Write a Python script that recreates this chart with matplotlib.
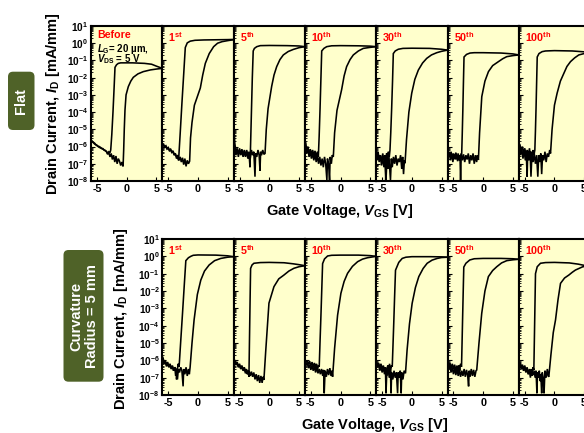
import numpy as np
import matplotlib
matplotlib.use('Agg')
import matplotlib.pyplot as plt
from matplotlib.patches import FancyBboxPatch
from matplotlib.transforms import IdentityTransform
from matplotlib.ticker import LogLocator, NullFormatter

plt.rcParams['font.family'] = ['Liberation Sans', 'DejaVu Sans']
plt.rcParams['font.weight'] = 'bold'
plt.rcParams['mathtext.fontset'] = 'custom'
plt.rcParams['mathtext.rm'] = 'Liberation Sans:bold'
plt.rcParams['mathtext.bf'] = 'Liberation Sans:bold'
plt.rcParams['mathtext.it'] = 'Liberation Sans:italic:bold'
plt.rcParams['mathtext.sf'] = 'Liberation Sans:bold'

# ---------------- data: (V_GS [V], log10 I_D [mA/mm]) ----------------
# ---- Flat row ----
FLAT_BEFORE_FWD = [(-6.0,-5.62),(-5.8,-5.72),(-5.6,-5.78),(-5.4,-5.85),(-5.2,-5.9),(-5.0,-5.95),(-4.8,-6.0),(-4.6,-6.05),(-4.4,-6.08),(-4.2,-6.12),(-4.0,-6.15),(-3.8,-6.2),(-3.6,-6.22),(-3.4,-6.3),(-3.2,-6.45),(-3.0,-6.35),(-2.8,-6.6),(-2.6,-6.4),(-2.4,-6.75),(-2.2,-6.5),(-2.0,-6.9),(-1.8,-6.55),(-1.6,-7.0),(-1.4,-6.7),(-1.2,-6.85),(-1.0,-7.1),(-0.8,-6.9),(-0.6,-7.15),(-0.5,-6.2),(-0.4,-5.0),(-0.28,-3.88),(-0.1,-3.0),(0.28,-2.52),(0.7,-2.2),(1.12,-1.98),(1.9,-1.78),(2.8,-1.65),(4.0,-1.55),(5.0,-1.5),(6.0,-1.46)]
FLAT_BEFORE_REV = [(6.0,-1.46),(5.0,-1.33),(4.2,-1.22),(3.0,-1.17),(1.0,-1.14),(-1.0,-1.14),(-1.4,-1.17),(-1.7,-1.25),(-1.96,-1.4),(-2.1,-2.5),(-2.3,-4.0),(-2.5,-5.3),(-2.68,-6.2),(-2.8,-6.35),(-3.0,-6.3),(-3.2,-6.4),(-3.4,-6.28),(-3.6,-6.25),(-3.8,-6.2),(-4.0,-6.12),(-4.2,-6.1),(-4.4,-6.05),(-4.6,-6.0),(-4.8,-5.98),(-5.0,-5.92),(-5.2,-5.88),(-5.4,-5.8),(-5.6,-5.75),(-5.8,-5.7),(-6.0,-5.6)]

FLAT_1_FWD = [(-6.0,-5.9),(-5.8,-5.95),(-5.6,-6.05),(-5.4,-6.0),(-5.2,-6.15),(-5.0,-6.1),(-4.8,-6.25),(-4.6,-6.2),(-4.4,-6.35),(-4.2,-6.3),(-4.0,-6.5),(-3.8,-6.45),(-3.6,-6.6),(-3.4,-6.5),(-3.2,-6.8),(-3.0,-6.6),(-2.8,-6.9),(-2.6,-6.65),(-2.4,-7.05),(-2.2,-6.7),(-2.0,-7.15),(-1.8,-6.8),(-1.6,-7.0),(-1.4,-6.85),(-1.25,-5.5),(-1.0,-4.6),(-0.6,-3.6),(0.0,-3.0),(0.4,-2.6),(0.8,-1.85),(1.24,-1.17),(1.9,-0.6),(2.64,-0.2),(3.3,0.0),(4.05,0.09),(5.0,0.15),(5.73,0.19),(6.0,0.2)]
FLAT_1_REV = [(6.0,0.22),(5.0,0.21),(3.0,0.2),(1.0,0.19),(-0.5,0.17),(-1.3,0.12),(-1.8,0.02),(-2.13,-0.25),(-2.4,-1.8),(-2.7,-3.5),(-3.0,-5.3),(-3.26,-6.8),(-3.4,-6.55),(-3.6,-6.7),(-3.8,-6.4),(-4.0,-6.45),(-4.2,-6.25),(-4.4,-6.3),(-4.6,-6.15),(-4.8,-6.2),(-5.0,-6.05),(-5.2,-6.1),(-5.4,-5.95),(-5.6,-6.0),(-5.8,-5.85),(-6.0,-5.85)]

FLAT_5_FWD = [(-6.0,-5.1),(-5.9,-6.0),(-5.8,-6.2),(-5.6,-6.5),(-5.4,-6.1),(-5.2,-6.6),(-5.0,-6.2),(-4.8,-6.45),(-4.6,-6.15),(-4.4,-6.55),(-4.2,-6.25),(-4.0,-6.6),(-3.8,-6.2),(-3.6,-6.5),(-3.4,-6.3),(-3.2,-6.7),(-3.0,-6.2),(-2.8,-6.5),(-2.6,-6.3),(-2.4,-7.75),(-2.3,-6.4),(-2.1,-6.6),(-1.9,-6.2),(-1.7,-6.5),(-1.56,-7.4),(-1.45,-6.3),(-1.3,-6.5),(-1.1,-6.2),(-0.9,-6.45),(-0.71,-6.4),(-0.5,-5.0),(-0.2,-3.8),(0.41,-2.5),(0.8,-1.85),(1.25,-1.36),(1.8,-0.95),(2.37,-0.68),(3.2,-0.48),(4.05,-0.36),(5.0,-0.26),(6.0,-0.2)]
FLAT_5_REV = [(6.0,-0.2),(5.0,-0.16),(3.0,-0.14),(0.0,-0.13),(-1.5,-0.14),(-2.1,-0.2),(-2.5,-0.3),(-2.7,-0.45),(-2.85,-2.0),(-3.0,-4.0),(-3.15,-6.0),(-3.24,-7.2),(-3.4,-6.4),(-3.6,-6.7),(-3.8,-6.3),(-4.0,-6.55),(-4.2,-6.2),(-4.4,-6.6),(-4.6,-6.25),(-4.8,-6.5),(-5.0,-6.1),(-5.2,-6.45),(-5.4,-6.15),(-5.6,-6.3),(-5.8,-5.8),(-5.9,-5.2),(-6.0,-5.0)]

FLAT_10_FWD = [(-6.0,-5.6),(-5.9,-6.1),(-5.7,-6.4),(-5.5,-6.1),(-5.3,-6.6),(-5.1,-6.3),(-4.9,-6.7),(-4.7,-6.35),(-4.5,-6.8),(-4.3,-6.4),(-4.1,-6.9),(-3.9,-6.5),(-3.7,-7.0),(-3.5,-6.6),(-3.3,-7.1),(-3.1,-6.7),(-2.9,-7.2),(-2.7,-6.6),(-2.5,-7.0),(-2.3,-7.95),(-2.2,-6.7),(-2.0,-7.1),(-1.85,-7.95),(-1.75,-6.6),(-1.55,-7.0),(-1.4,-6.5),(-1.22,-6.6),(-1.0,-5.2),(-0.6,-3.9),(0.18,-2.7),(0.6,-1.9),(1.02,-1.36),(1.6,-0.95),(2.15,-0.68),(3.0,-0.45),(3.83,-0.3),(5.0,-0.24),(6.0,-0.2)]
FLAT_10_REV = [(6.0,-0.2),(5.0,-0.17),(3.0,-0.15),(0.0,-0.14),(-1.5,-0.15),(-2.33,-0.2),(-2.8,-0.3),(-3.17,-0.45),(-3.3,-2.0),(-3.45,-3.8),(-3.6,-5.4),(-3.74,-6.6),(-3.9,-6.3),(-4.1,-6.6),(-4.3,-6.25),(-4.5,-6.5),(-4.7,-6.2),(-4.9,-6.45),(-5.1,-6.15),(-5.3,-6.4),(-5.5,-6.0),(-5.7,-6.2),(-5.85,-5.8),(-6.0,-5.6)]

FLAT_30_FWD = [(-6.0,-6.3),(-5.85,-6.8),(-5.7,-6.4),(-5.5,-6.9),(-5.3,-6.5),(-5.1,-7.1),(-4.9,-6.6),(-4.7,-7.2),(-4.5,-6.7),(-4.35,-7.95),(-4.2,-6.8),(-4.0,-7.3),(-3.85,-6.6),(-3.6,-7.95),(-3.45,-6.7),(-3.3,-7.2),(-3.1,-6.6),(-2.9,-7.0),(-2.7,-6.5),(-2.5,-7.1),(-2.3,-6.7),(-2.1,-6.9),(-1.9,-6.5),(-1.7,-7.3),(-1.55,-6.6),(-1.4,-7.6),(-1.25,-6.8),(-1.15,-6.97),(-0.9,-5.6),(-0.5,-4.0),(-0.02,-2.9),(0.5,-2.1),(1.09,-1.56),(1.8,-1.15),(2.5,-0.88),(3.3,-0.68),(4.19,-0.55),(5.0,-0.47),(6.0,-0.4)]
FLAT_30_REV = [(6.0,-0.4),(5.0,-0.35),(3.0,-0.3),(0.0,-0.29),(-1.5,-0.3),(-2.28,-0.35),(-2.8,-0.45),(-3.12,-0.6),(-3.25,-2.2),(-3.4,-3.8),(-3.55,-5.2),(-3.68,-6.2),(-3.8,-6.6),(-3.95,-6.3),(-4.1,-7.0),(-4.25,-6.4),(-4.4,-7.95),(-4.5,-6.5),(-4.7,-6.8),(-4.9,-6.4),(-5.1,-6.9),(-5.3,-6.5),(-5.5,-6.7),(-5.7,-6.3),(-5.85,-6.5),(-6.0,-6.2)]

FLAT_50_FWD = [(-6.0,-6.3),(-5.85,-6.6),(-5.7,-6.35),(-5.5,-6.8),(-5.3,-6.4),(-5.1,-6.9),(-4.9,-6.45),(-4.7,-6.75),(-4.5,-6.4),(-4.3,-6.85),(-4.1,-6.5),(-3.9,-6.7),(-3.7,-6.4),(-3.5,-6.8),(-3.3,-6.45),(-3.1,-6.9),(-2.9,-6.5),(-2.7,-6.75),(-2.5,-6.4),(-2.3,-7.0),(-2.1,-6.5),(-1.9,-6.8),(-1.7,-6.4),(-1.5,-7.0),(-1.3,-6.5),(-1.1,-6.9),(-0.95,-6.5),(-0.8,-6.78),(-0.6,-5.2),(-0.23,-3.1),(0.3,-2.2),(0.89,-1.65),(1.6,-1.3),(2.57,-1.07),(3.3,-0.9),(3.97,-0.78),(5.0,-0.72),(6.0,-0.68)]
FLAT_50_REV = [(6.0,-0.68),(5.0,-0.62),(3.0,-0.57),(0.0,-0.55),(-1.5,-0.55),(-2.21,-0.57),(-2.8,-0.65),(-3.22,-0.8),(-3.32,-2.3),(-3.42,-3.9),(-3.52,-5.3),(-3.61,-6.4),(-3.7,-6.6),(-3.8,-7.95),(-3.9,-6.5),(-4.05,-6.8),(-4.2,-6.4),(-4.4,-6.75),(-4.6,-6.35),(-4.8,-6.7),(-5.0,-6.4),(-5.2,-6.65),(-5.4,-6.3),(-5.6,-6.6),(-5.8,-6.3),(-6.0,-6.2)]

FLAT_100_FWD = [(-6.0,-5.8),(-5.85,-6.1),(-5.7,-6.5),(-5.5,-6.1),(-5.3,-6.7),(-5.1,-6.2),(-4.9,-6.8),(-4.75,-6.3),(-4.6,-7.75),(-4.5,-6.4),(-4.3,-6.8),(-4.1,-6.3),(-3.95,-7.75),(-3.8,-6.5),(-3.6,-6.9),(-3.4,-6.4),(-3.2,-7.0),(-3.0,-6.5),(-2.8,-7.75),(-2.65,-6.5),(-2.5,-6.9),(-2.3,-6.4),(-2.15,-7.6),(-2.0,-6.5),(-1.8,-6.8),(-1.6,-6.3),(-1.4,-6.9),(-1.2,-6.4),(-1.0,-6.6),(-0.8,-6.2),(-0.66,-6.4),(-0.4,-5.0),(0.0,-3.6),(0.45,-2.9),(1.0,-2.2),(1.58,-1.75),(2.1,-1.35),(2.7,-1.07),(3.4,-0.85),(4.1,-0.68),(5.0,-0.6),(6.0,-0.55)]
FLAT_100_REV = [(6.0,-0.56),(5.0,-0.5),(3.0,-0.45),(0.0,-0.43),(-1.5,-0.45),(-2.08,-0.49),(-2.6,-0.6),(-2.9,-0.8),(-3.0,-2.3),(-3.1,-3.8),(-3.2,-5.1),(-3.3,-6.2),(-3.45,-6.5),(-3.6,-6.2),(-3.75,-6.8),(-3.9,-6.3),(-4.05,-6.6),(-4.2,-6.1),(-4.4,-6.5),(-4.6,-6.2),(-4.8,-6.45),(-5.0,-6.1),(-5.2,-6.35),(-5.4,-6.0),(-5.6,-6.25),(-5.8,-5.9),(-6.0,-5.8)]

# ---- Curvature radius = 5 mm row ----
BENT_1_FWD = [(-6.0,-5.75),(-5.85,-6.0),(-5.7,-6.2),(-5.5,-6.1),(-5.3,-6.35),(-5.1,-6.2),(-4.9,-6.4),(-4.7,-6.3),(-4.5,-6.5),(-4.3,-6.35),(-4.1,-6.6),(-3.9,-6.4),(-3.75,-6.9),(-3.6,-6.5),(-3.45,-7.1),(-3.3,-6.5),(-3.1,-6.7),(-2.9,-6.4),(-2.7,-6.6),(-2.5,-7.5),(-2.4,-6.5),(-2.2,-6.8),(-2.0,-6.4),(-1.8,-6.9),(-1.6,-6.5),(-1.45,-6.8),(-1.32,-6.4),(-1.0,-5.0),(-0.65,-3.67),(-0.1,-2.2),(0.48,-1.37),(1.1,-0.85),(1.88,-0.5),(2.8,-0.25),(3.85,-0.12),(5.0,-0.05),(6.0,-0.02)]
BENT_1_REV = [(6.0,-0.02),(5.0,0.03),(3.0,0.07),(0.0,0.08),(-0.8,0.06),(-1.2,0.0),(-1.6,-0.08),(-2.04,-0.25),(-2.3,-1.65),(-2.6,-3.3),(-2.9,-4.9),(-3.17,-6.37),(-3.35,-6.2),(-3.5,-6.7),(-3.6,-7.1),(-3.7,-6.5),(-3.9,-6.4),(-4.1,-6.6),(-4.3,-6.3),(-4.5,-6.45),(-4.7,-6.2),(-4.9,-6.35),(-5.1,-6.1),(-5.3,-6.25),(-5.5,-6.0),(-5.7,-6.1),(-5.85,-5.9),(-6.0,-5.8)]

BENT_5_FWD = [(-6.0,-5.98),(-5.8,-6.15),(-5.6,-6.25),(-5.4,-6.2),(-5.2,-6.4),(-5.0,-6.3),(-4.8,-6.5),(-4.6,-6.4),(-4.4,-6.6),(-4.2,-6.5),(-4.0,-6.75),(-3.8,-6.55),(-3.6,-6.8),(-3.4,-6.6),(-3.2,-6.9),(-3.0,-6.65),(-2.8,-6.95),(-2.6,-6.7),(-2.4,-7.1),(-2.2,-6.8),(-2.0,-7.2),(-1.8,-6.85),(-1.6,-7.3),(-1.4,-6.9),(-1.2,-7.3),(-1.05,-6.95),(-0.9,-7.13),(-0.6,-5.5),(-0.05,-2.7),(0.79,-1.75),(1.6,-1.3),(2.47,-1.08),(3.3,-0.85),(4.15,-0.69),(5.0,-0.6),(6.0,-0.54)]
BENT_5_REV = [(6.0,-0.54),(5.0,-0.48),(4.0,-0.43),(2.5,-0.37),(0.0,-0.35),(-1.5,-0.36),(-2.58,-0.4),(-2.9,-0.5),(-3.14,-0.7),(-3.22,-2.4),(-3.3,-4.2),(-3.37,-5.8),(-3.42,-6.95),(-3.55,-6.6),(-3.7,-6.8),(-3.85,-6.5),(-4.0,-6.65),(-4.2,-6.4),(-4.4,-6.55),(-4.6,-6.3),(-4.8,-6.45),(-5.0,-6.2),(-5.2,-6.35),(-5.4,-6.1),(-5.6,-6.2),(-5.8,-6.0),(-6.0,-5.98)]

BENT_10_FWD = [(-6.0,-5.98),(-5.8,-6.3),(-5.6,-6.15),(-5.4,-6.45),(-5.2,-6.25),(-5.0,-6.55),(-4.8,-6.3),(-4.6,-6.6),(-4.4,-6.35),(-4.2,-6.7),(-4.0,-6.4),(-3.8,-6.75),(-3.6,-6.5),(-3.4,-6.8),(-3.2,-6.5),(-3.0,-6.9),(-2.85,-6.55),(-2.75,-7.9),(-2.6,-6.6),(-2.4,-6.95),(-2.2,-6.5),(-2.0,-6.85),(-1.8,-6.45),(-1.6,-6.9),(-1.45,-6.6),(-1.34,-6.95),(-1.0,-5.3),(-0.5,-3.4),(0.06,-2.13),(0.6,-1.45),(1.18,-0.98),(2.0,-0.58),(2.87,-0.31),(3.7,-0.16),(4.55,-0.08),(6.0,0.0)]
BENT_10_REV = [(6.0,0.0),(5.0,0.04),(3.0,0.07),(0.0,0.07),(-1.5,0.06),(-2.18,0.02),(-2.7,-0.15),(-3.02,-0.42),(-3.15,-1.8),(-3.3,-3.4),(-3.45,-4.9),(-3.59,-6.37),(-3.75,-6.3),(-3.9,-6.6),(-4.05,-6.2),(-4.2,-6.5),(-4.4,-6.15),(-4.6,-6.4),(-4.8,-6.1),(-5.0,-6.35),(-5.2,-6.05),(-5.4,-6.25),(-5.6,-6.0),(-5.8,-6.1),(-6.0,-5.98)]

BENT_30_FWD = [(-6.0,-6.1),(-5.8,-6.4),(-5.6,-6.25),(-5.4,-6.6),(-5.2,-6.35),(-5.0,-6.7),(-4.8,-6.4),(-4.6,-6.8),(-4.4,-6.5),(-4.2,-6.9),(-4.0,-6.5),(-3.8,-7.0),(-3.6,-6.6),(-3.5,-7.9),(-3.4,-6.7),(-3.2,-7.1),(-3.0,-6.6),(-2.8,-7.0),(-2.6,-6.7),(-2.4,-7.9),(-2.3,-6.7),(-2.1,-7.0),(-1.95,-6.6),(-1.8,-7.9),(-1.7,-6.7),(-1.5,-7.1),(-1.3,-6.6),(-1.07,-6.75),(-0.8,-5.4),(-0.4,-3.9),(0.05,-2.71),(0.6,-1.8),(1.17,-1.17),(1.9,-0.7),(2.58,-0.4),(3.4,-0.22),(4.27,-0.12),(5.0,-0.07),(6.0,-0.05)]
BENT_30_REV = [(6.0,-0.05),(5.0,-0.03),(3.0,-0.02),(0.0,-0.02),(-1.0,-0.05),(-1.62,-0.12),(-2.2,-0.35),(-2.75,-0.8),(-2.9,-2.3),(-3.05,-3.9),(-3.18,-5.2),(-3.3,-6.37),(-3.45,-6.3),(-3.6,-6.7),(-3.75,-6.2),(-3.9,-6.6),(-4.05,-6.3),(-4.2,-6.5),(-4.35,-7.9),(-4.45,-6.4),(-4.6,-6.6),(-4.8,-6.3),(-5.0,-6.5),(-5.2,-6.2),(-5.4,-6.4),(-5.6,-6.15),(-5.8,-6.3),(-6.0,-6.1)]

BENT_50_FWD = [(-6.0,-6.2),(-5.8,-6.5),(-5.6,-6.3),(-5.4,-6.7),(-5.2,-6.4),(-5.0,-6.8),(-4.8,-6.45),(-4.6,-6.85),(-4.4,-6.5),(-4.2,-6.9),(-4.0,-6.55),(-3.8,-6.95),(-3.6,-6.6),(-3.4,-6.9),(-3.2,-6.5),(-3.0,-6.95),(-2.8,-6.55),(-2.6,-6.9),(-2.45,-7.5),(-2.35,-6.6),(-2.2,-6.95),(-2.0,-6.5),(-1.8,-6.9),(-1.6,-6.55),(-1.4,-6.95),(-1.2,-6.6),(-1.08,-6.56),(-0.7,-5.0),(-0.24,-3.29),(0.3,-2.0),(0.88,-1.17),(1.6,-0.82),(2.29,-0.6),(3.1,-0.38),(3.97,-0.25),(5.0,-0.2),(6.0,-0.17)]
BENT_50_REV = [(6.0,-0.17),(5.0,-0.14),(3.0,-0.12),(0.0,-0.12),(-1.5,-0.14),(-2.25,-0.21),(-2.9,-0.4),(-3.26,-0.62),(-3.36,-2.1),(-3.46,-3.6),(-3.55,-5.0),(-3.64,-6.37),(-3.8,-6.2),(-3.95,-6.6),(-4.1,-6.3),(-4.25,-6.7),(-4.4,-6.3),(-4.6,-6.6),(-4.8,-6.25),(-5.0,-6.5),(-5.2,-6.2),(-5.4,-6.45),(-5.6,-6.15),(-5.8,-6.35),(-6.0,-6.2)]

BENT_100_FWD = [(-6.0,-6.08),(-5.8,-6.3),(-5.6,-6.5),(-5.4,-6.4),(-5.2,-6.6),(-5.0,-6.45),(-4.8,-6.7),(-4.6,-6.5),(-4.4,-6.8),(-4.2,-6.55),(-4.0,-6.9),(-3.8,-6.6),(-3.6,-6.85),(-3.4,-6.6),(-3.25,-7.0),(-3.1,-6.6),(-2.95,-7.9),(-2.85,-6.7),(-2.7,-7.0),(-2.55,-6.6),(-2.4,-7.2),(-2.3,-6.8),(-2.15,-7.9),(-2.05,-6.7),(-1.9,-7.0),(-1.75,-7.9),(-1.6,-6.6),(-1.4,-7.0),(-1.2,-6.5),(-1.05,-6.9),(-0.95,-6.95),(-0.6,-5.7),(-0.2,-4.4),(0.18,-3.67),(0.6,-2.5),(1.02,-1.56),(1.7,-1.25),(2.42,-1.08),(3.0,-0.92),(3.54,-0.79),(4.77,-0.6),(6.0,-0.56)]
BENT_100_REV = [(6.0,-0.58),(5.0,-0.52),(4.0,-0.45),(2.5,-0.38),(0.0,-0.35),(-1.5,-0.36),(-2.35,-0.4),(-2.9,-0.6),(-3.19,-1.0),(-3.27,-2.6),(-3.35,-4.2),(-3.42,-5.6),(-3.47,-6.56),(-3.6,-6.4),(-3.75,-6.9),(-3.9,-6.5),(-4.05,-7.0),(-4.2,-6.5),(-4.4,-6.8),(-4.6,-6.4),(-4.8,-6.6),(-5.0,-6.3),(-5.2,-6.5),(-5.4,-6.25),(-5.6,-6.4),(-5.8,-6.15),(-6.0,-6.08)]

FLAT_LABELS = [('Before', ''), ('1', 'st'), ('5', 'th'), ('10', 'th'), ('30', 'th'), ('50', 'th'), ('100', 'th')]
BENT_LABELS = [('1', 'st'), ('5', 'th'), ('10', 'th'), ('30', 'th'), ('50', 'th'), ('100', 'th')]
FLAT_CURVES = [(FLAT_BEFORE_FWD, FLAT_BEFORE_REV), (FLAT_1_FWD, FLAT_1_REV), (FLAT_5_FWD, FLAT_5_REV),
               (FLAT_10_FWD, FLAT_10_REV), (FLAT_30_FWD, FLAT_30_REV), (FLAT_50_FWD, FLAT_50_REV),
               (FLAT_100_FWD, FLAT_100_REV)]
BENT_CURVES = [(BENT_1_FWD, BENT_1_REV), (BENT_5_FWD, BENT_5_REV), (BENT_10_FWD, BENT_10_REV),
               (BENT_30_FWD, BENT_30_REV), (BENT_50_FWD, BENT_50_REV), (BENT_100_FWD, BENT_100_REV)]
X_TICKS = [-5, 0, 5]
X_TICK_LABELS = ['-5', '0', '5']
Y_EXPONENTS = [-8, -7, -6, -5, -4, -3, -2, -1, 0, 1]

# ---------------- layout ----------------
W, H = 584, 433
fig = plt.figure(figsize=(W / 100, H / 100), dpi=100)
fig.patch.set_facecolor('white')

PANEL_W = 71.3
COL0 = 91.0
BG = '#ffffcc'


def rect(x, ytop, w, h):
    return [x / W, 1 - (ytop + h) / H, w / W, h / H]


def make_panel(x, ytop, h, curves, label, first, extra=False):
    ax = fig.add_axes(rect(x, ytop, PANEL_W, h))
    ax.set_facecolor(BG)
    for branch in curves:
        v = np.array([p[0] for p in branch])
        li = np.array([p[1] for p in branch])
        ax.plot(v, 10.0 ** li, color='black', lw=1.15, solid_joinstyle='miter')
    ax.set_yscale('log')
    ax.set_xlim(-6, 6)
    ax.set_ylim(1e-8, 1e1)
    ax.set_xticks(X_TICKS)
    ax.set_xticklabels(X_TICK_LABELS, fontsize=7.8, fontweight='bold')
    ax.set_yticks([10.0 ** e for e in Y_EXPONENTS])
    ax.yaxis.set_minor_locator(LogLocator(base=10, subs=np.arange(2, 10), numticks=100))
    ax.yaxis.set_minor_formatter(NullFormatter())
    if first:
        ax.set_yticklabels([r'$\mathrm{10^{%d}}$' % e for e in Y_EXPONENTS], fontsize=7.2)
    else:
        ax.set_yticklabels([])
    ax.tick_params(axis='both', which='both', direction='in', top=False, right=False)
    ax.tick_params(which='major', length=3, width=0.8)
    ax.tick_params(which='minor', length=1.6, width=0.6)
    ax.tick_params(axis='x', pad=2.5)
    ax.tick_params(axis='y', pad=2)
    for s in ax.spines.values():
        s.set_linewidth(1.5)
    num, suf = label
    if suf:
        txt = num + r'$^{\mathrm{' + suf + '}}$'
    else:
        txt = num
    ax.text(0.085, 0.975, txt, transform=ax.transAxes, color='#ff0000', fontsize=7.7,
            fontweight='bold', ha='left', va='top')
    if extra:
        ax.text(0.085, 0.85, r'$L_{\mathrm{G}}$= 20 µm,', transform=ax.transAxes, color='black',
                fontsize=7, fontweight='bold', ha='left', va='center')
        ax.text(0.085, 0.785, r'$V_{\mathrm{DS}}$ = 5 V', transform=ax.transAxes, color='black',
                fontsize=7, fontweight='bold', ha='left', va='center')
    return ax


for k in range(7):
    make_panel(COL0 + PANEL_W * k, 26, 155, FLAT_CURVES[k], FLAT_LABELS[k], k == 0, extra=(k == 0))
for k in range(6):
    make_panel(COL0 + PANEL_W * (k + 1), 239, 156, BENT_CURVES[k], BENT_LABELS[k], k == 0)

# axis titles
fig.text(53 / W, 1 - 104 / H, r'Drain Current, $I_{\mathrm{D}}$ [mA/mm]', rotation=90,
         ha='center', va='center', fontsize=10.5, fontweight='bold')
fig.text(121 / W, 1 - 319 / H, r'Drain Current, $I_{\mathrm{D}}$ [mA/mm]', rotation=90,
         ha='center', va='center', fontsize=10.5, fontweight='bold')
fig.text(340 / W, 1 - 211 / H, r'Gate Voltage, $V_{\mathrm{GS}}$ [V]',
         ha='center', va='center', fontsize=10.5, fontweight='bold')
fig.text(375 / W, 1 - 425 / H, r'Gate Voltage, $V_{\mathrm{GS}}$ [V]',
         ha='center', va='center', fontsize=10.5, fontweight='bold')

# green condition boxes
GREEN = '#4f6228'
fig.add_artist(FancyBboxPatch((8, H - 130), 26.5, 58.3, boxstyle='round,pad=0,rounding_size=5',
                              transform=IdentityTransform(), facecolor=GREEN, edgecolor='none'))
fig.add_artist(FancyBboxPatch((63.5, H - 381.7), 40, 131.7, boxstyle='round,pad=0,rounding_size=5',
                              transform=IdentityTransform(), facecolor=GREEN, edgecolor='none'))
fig.text(21.5 / W, 1 - 101 / H, 'Flat', rotation=90, ha='center', va='center', color='white',
         fontsize=10.5, fontweight='bold')
fig.text(84 / W, 1 - 316 / H, 'Curvature\nRadius = 5 mm', rotation=90, ha='center', va='center',
         color='white', fontsize=10.5, fontweight='bold', linespacing=1.2, multialignment='center')

fig.savefig('out.png', dpi=100, facecolor='white')
